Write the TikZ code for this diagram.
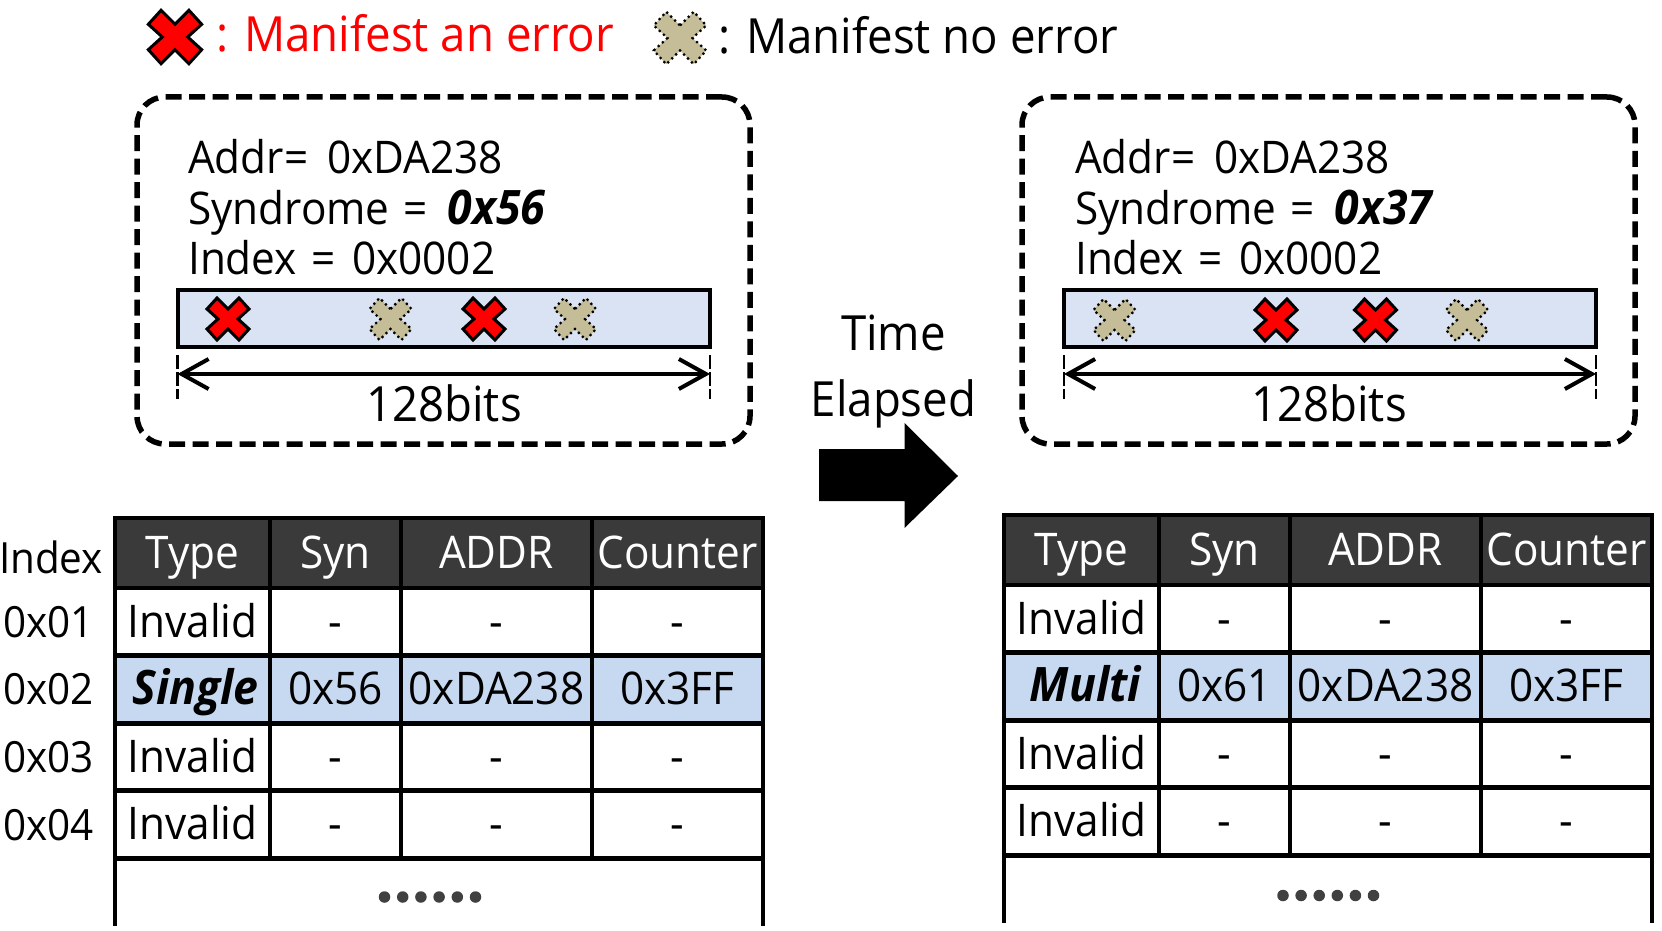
\documentclass[tikz,border=0pt]{standalone}
\usepackage{fontspec}
\setmainfont{Open Sans}[FakeStretch=0.94]
\usetikzlibrary{arrows.meta}

\definecolor{barblue}{HTML}{DAE3F3}
\definecolor{rowblue}{HTML}{C6D9F1}
\definecolor{headgray}{HTML}{3A3A3A}
\definecolor{crosstan}{HTML}{C4BD97}

\newcommand{\boldit}[1]{{\fontsize{47.5}{50}\selectfont\textbf{\textit{#1}}}}

\tikzset{
    label43/.style={inner sep=0, anchor=base, font=\fontsize{43}{50}\selectfont},
    label45/.style={inner sep=0, anchor=base, font=\fontsize{45}{50}\selectfont},
    label48/.style={inner sep=0, anchor=base, font=\fontsize{48.5}{50}\selectfont},
    line45/.style={label45, anchor=base west},
    legend/.style={label48, anchor=base west},
    frame/.style={rectangle, draw, line width=5.5pt, dash pattern=on 16pt off 7.5pt, rounded corners=28pt, minimum width=613pt, minimum height=347pt},
    bar/.style={rectangle, draw, fill=barblue, line width=4pt, minimum width=532pt, minimum height=57pt},
    tick/.style={line width=2.5pt, dash pattern=on 14pt off 3pt on 14pt off 3pt},
    span/.style={line width=4pt, {Straight Barb[length=27pt,width=30pt]}-{Straight Barb[length=27pt,width=30pt]}},
    cell/.style={rectangle, draw, line width=4.5pt, inner sep=0, outer sep=0, minimum height=68pt, text height=35pt, text depth=5pt, font=\fontsize{45}{50}\selectfont},
    headcell/.style={cell, fill=headgray, text=white, minimum height=70pt},
    blue/.style={cell, fill=rowblue},
    colA/.style={minimum width=155pt},
    colB/.style={minimum width=131pt},
    colC/.style={minimum width=191pt},
    colD/.style={minimum width=171pt},
    edge/.style={line width=4.5pt},
    dot/.style={circle, fill=black!75, inner sep=0, minimum size=11.5pt},
    redx/.pic={\draw[fill=red, line width=3pt, line join=miter]
        (0,-10) -- (11,-21) -- (21,-10) -- (10,0) -- (21,10) -- (11,21) -- (0,10) -- (-11,21) -- (-21,10) -- (-10,0) -- (-21,-10) -- (-11,-21) -- cycle;},
    tanx/.pic={\draw[fill=crosstan, line width=2.2pt, dash pattern=on 2.2pt off 3.4pt]
        (0,-10) -- (11,-21) -- (21,-10) -- (10,0) -- (21,10) -- (11,21) -- (0,10) -- (-11,21) -- (-21,10) -- (-10,0) -- (-21,-10) -- (-11,-21) -- cycle;},
}

\begin{document}
\begin{tikzpicture}[x=1pt, y=-1pt]
    \useasboundingbox (0,0) rectangle (1662,931);

    % legend
    \pic[scale=1.27] at (175,37) {redx};
    \node at (216,52) [legend, text=red] (legendRed) {: Manifest an error};
    \pic[scale=1.25] at (680,38) {tanx};
    \node at (718,53.5) [legend] (legendTan) {: Manifest no error};

    % left entry
    \node at (443.5,270.5) [frame] (frameA) {};
    \node at (188,173) [line45] (addrA) {Addr=\hspace{8pt} 0xDA238};
    \node at (188,224) [line45] (synA) {Syndrome\hspace{3pt} =\hspace{9pt} \boldit{0x56}};
    \node at (188,274) [line45] (idxA) {Index\hspace{4pt} =\hspace{5pt} 0x0002};
    \node at (444,318.5) [bar] (barA) {};
    \pic at (228,319) {redx};
    \pic at (390.5,319) {tanx};
    \pic at (484,319) {redx};
    \pic at (575,319) {tanx};
    \coordinate (spanAl) at (177.5,374);
    \coordinate (spanAr) at (710,374);
    \draw[tick] (177.5,355) -- (177.5,399);
    \draw[tick] (710,355) -- (710,399);
    \draw[span] (spanAl) -- (spanAr);
    \node at (444,421) [label48] (bitsA) {128bits};

    % right entry
    \node at (1328.5,270.5) [frame] (frameB) {};
    \node at (1075,173) [line45] (addrB) {Addr=\hspace{8pt} 0xDA238};
    \node at (1075,224) [line45] (synB) {Syndrome\hspace{3pt} =\hspace{9pt} \boldit{0x37}};
    \node at (1075,274) [line45] (idxB) {Index\hspace{4pt} =\hspace{5pt} 0x0002};
    \node at (1330,318.5) [bar] (barB) {};
    \pic at (1114.5,320) {tanx};
    \pic at (1276,320) {redx};
    \pic at (1375.5,320) {redx};
    \pic at (1467,320) {tanx};
    \coordinate (spanBl) at (1064,374);
    \coordinate (spanBr) at (1596,374);
    \draw[tick] (1064,355) -- (1064,399);
    \draw[tick] (1596,355) -- (1596,399);
    \draw[span] (spanBl) -- (spanBr);
    \node at (1329,421) [label48] (bitsB) {128bits};

    % time arrow
    \node at (893.5,350) [label48] (time) {Time};
    \node at (893.5,416) [label48] (elapsed) {Elapsed};
    \fill (819,449) -- (904.5,449) -- (904.5,423) -- (958,476) -- (904.5,528) -- (904.5,501) -- (819,501) -- cycle;

    % left table
    \node at (51,573) [label43] (idxHead) {Index};
    \node at (48.5,637) [label43] (idx1) {0x01};
    \node at (48.5,704) [label43] (idx2) {0x02};
    \node at (48.5,772) [label43] (idx3) {0x03};
    \node at (48.5,840) [label43] (idx4) {0x04};

    \node at (192.5,553) [headcell, colA] (typeA) {Type};
    \node at (335.5,553) [headcell, colB] (synHeadA) {Syn};
    \node at (496.5,553) [headcell, colC] (addrHeadA) {ADDR};
    \node at (677.5,553) [headcell, colD] (countA) {Counter};

    \node at (192.5,622) [cell, colA] (a11) {Invalid};
    \node at (335.5,622) [cell, colB] (a12) {-};
    \node at (496.5,622) [cell, colC] (a13) {-};
    \node at (677.5,622) [cell, colD] (a14) {-};
    \node at (192.5,689.5) [blue, colA] (a21) {\hspace*{6pt}\boldit{Single}};
    \node at (335.5,689.5) [blue, colB] (a22) {0x56};
    \node at (496.5,689.5) [blue, colC] (a23) {0xDA238};
    \node at (677.5,689.5) [blue, colD] (a24) {0x3FF};
    \node at (192.5,757) [cell, colA] (a31) {Invalid};
    \node at (335.5,757) [cell, colB] (a32) {-};
    \node at (496.5,757) [cell, colC] (a33) {-};
    \node at (677.5,757) [cell, colD] (a34) {-};
    \node at (192.5,824.5) [cell, colA] (a41) {Invalid};
    \node at (335.5,824.5) [cell, colB] (a42) {-};
    \node at (496.5,824.5) [cell, colC] (a43) {-};
    \node at (677.5,824.5) [cell, colD] (a44) {-};

    \coordinate (endAl) at (115,926);
    \coordinate (endAr) at (763,926);
    \draw[edge] (a41.south west) -- (endAl);
    \draw[edge] (a44.south east) -- (endAr);
    \foreach \x in {0,...,5} \node at (384.5+\x*18.2,897) [dot] {};

    % right table
    \node at (1081.5,550) [headcell, colA] (typeB) {Type};
    \node at (1224.5,550) [headcell, colB] (synHeadB) {Syn};
    \node at (1385.5,550) [headcell, colC] (addrHeadB) {ADDR};
    \node at (1566.5,550) [headcell, colD] (countB) {Counter};

    \node at (1081.5,619) [cell, colA] (b11) {Invalid};
    \node at (1224.5,619) [cell, colB] (b12) {-};
    \node at (1385.5,619) [cell, colC] (b13) {-};
    \node at (1566.5,619) [cell, colD] (b14) {-};
    \node at (1081.5,686.5) [blue, colA] (b21) {\hspace*{9pt}\boldit{Multi}};
    \node at (1224.5,686.5) [blue, colB] (b22) {0x61};
    \node at (1385.5,686.5) [blue, colC] (b23) {0xDA238};
    \node at (1566.5,686.5) [blue, colD] (b24) {0x3FF};
    \node at (1081.5,754) [cell, colA] (b31) {Invalid};
    \node at (1224.5,754) [cell, colB] (b32) {-};
    \node at (1385.5,754) [cell, colC] (b33) {-};
    \node at (1566.5,754) [cell, colD] (b34) {-};
    \node at (1081.5,821.5) [cell, colA] (b41) {Invalid};
    \node at (1224.5,821.5) [cell, colB] (b42) {-};
    \node at (1385.5,821.5) [cell, colC] (b43) {-};
    \node at (1566.5,821.5) [cell, colD] (b44) {-};

    \coordinate (endBl) at (1004,923);
    \coordinate (endBr) at (1652,923);
    \draw[edge] (b41.south west) -- (endBl);
    \draw[edge] (b44.south east) -- (endBr);
    \foreach \x in {0,...,5} \node at (1283+\x*18.1,895.5) [dot] {};
\end{tikzpicture}
\end{document}
